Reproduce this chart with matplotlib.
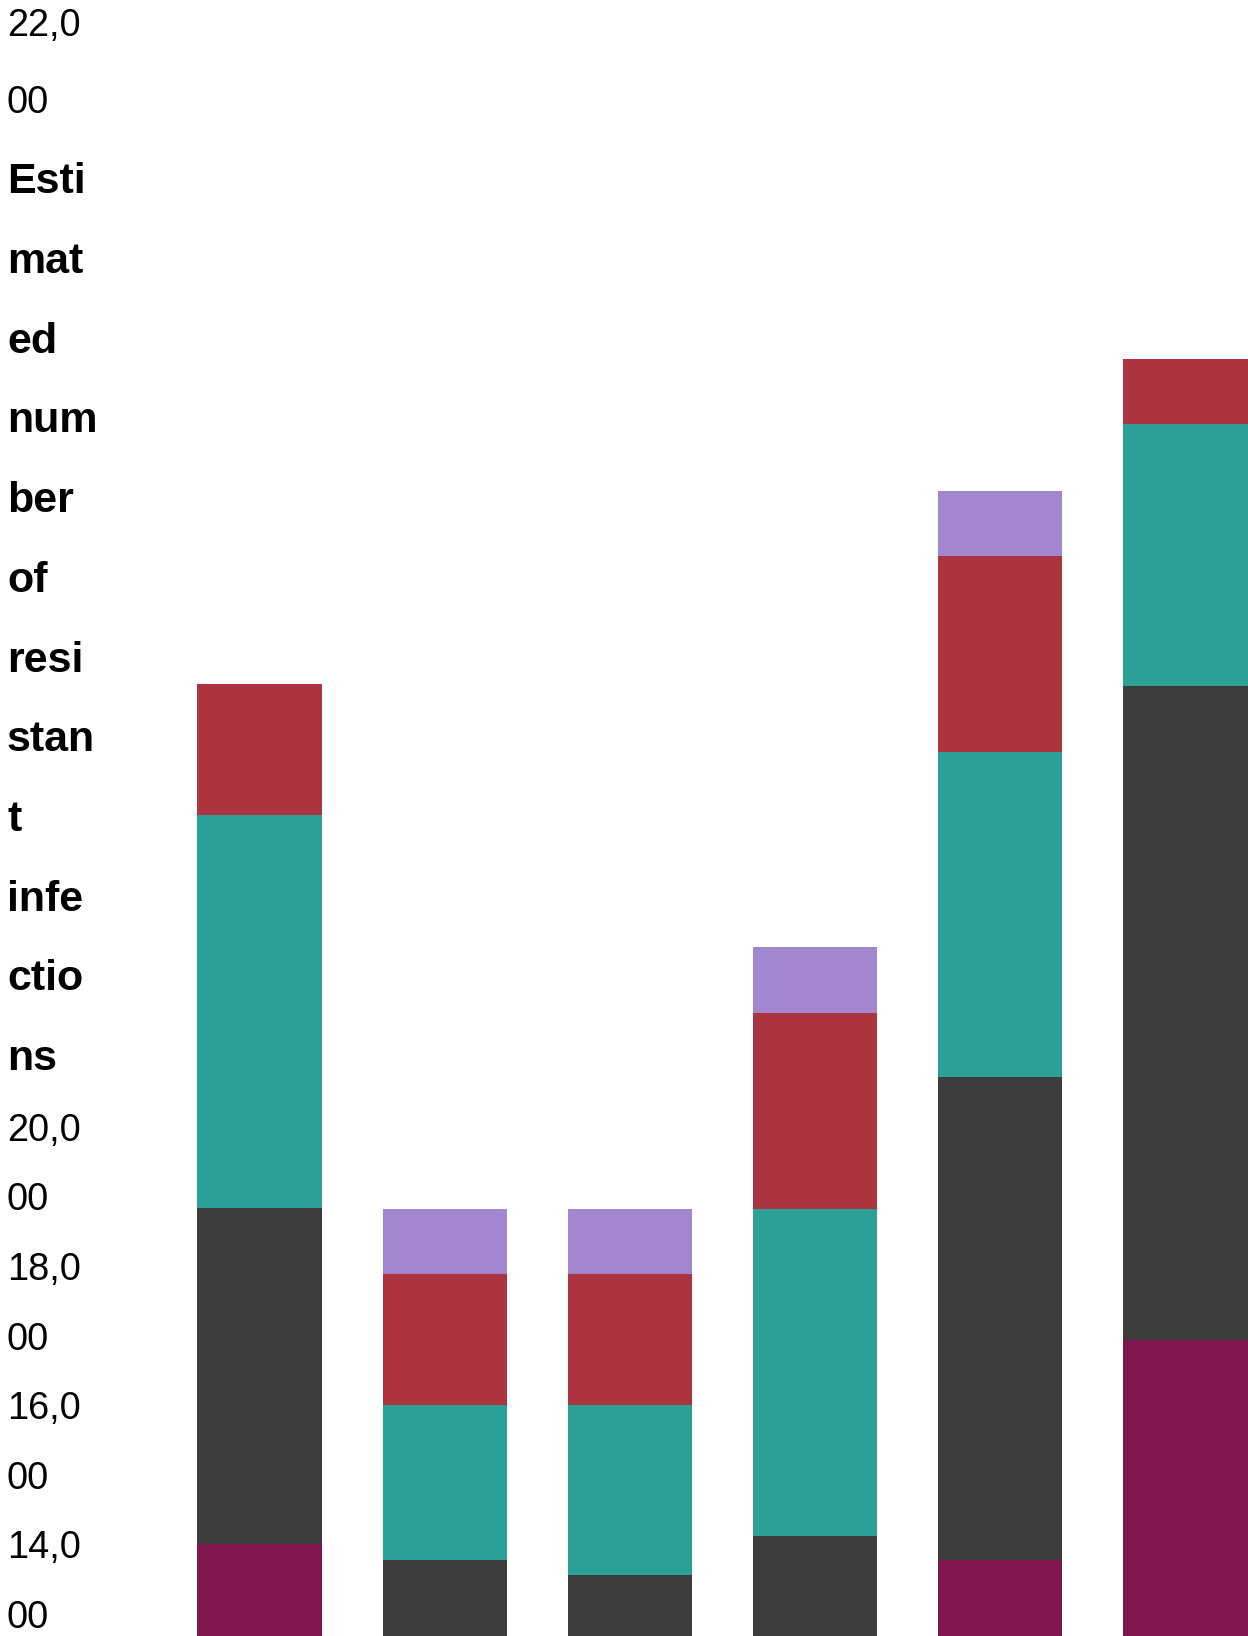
import matplotlib.pyplot as plt
import numpy as np

# stacked segments, bottom to top (values in infections, chart is cropped)
bars = ["1", "2", "3", "4", "5", "6"]
seg_maroon = [3400, 0, 0, 0, 3160, 6530]
seg_gray = [5150, 3160, 2930, 3530, 7390, 10000]
seg_teal = [6000, 2370, 2600, 5000, 4960, 4000]
seg_red = [2000, 2000, 2000, 3000, 3000, 1000]
seg_lav = [0, 1000, 1000, 1000, 1000, 0]

colors = ["#80164e", "#3c3c3c", "#2aa096", "#ac343e", "#a286d0"]

tick_top = ["22,0", "00"]
tick_bottom = ["20,0", "00", "18,0", "00", "16,0", "00", "14,0", "00"]
title_lines = ["Esti", "mat", "ed", "num", "ber", "of", "resi", "stan", "t",
               "infe", "ctio", "ns"]

W, H = 1248, 1636
fig = plt.figure(figsize=(W / 100, H / 100), dpi=100)
plt.rcParams["font.family"] = ["Liberation Sans", "DejaVu Sans"]

ax = fig.add_axes([0, 0, 1, 1])
x = np.arange(len(bars))
bottom = np.zeros(len(bars))
for vals, c in zip([seg_maroon, seg_gray, seg_teal, seg_red, seg_lav], colors):
    ax.bar(x, vals, bottom=bottom, width=0.67, color=c, linewidth=0)
    bottom += np.array(vals)

ax.set_xlim(-259.5 / 185.2, (W - 259.5) / 185.2)
ax.set_ylim(2000, 2000 + H / 0.0654)
ax.axis("off")


def put(txt, ybase, size, weight="normal"):
    fig.text(7 / W, 1 - ybase / H, txt, fontsize=size, fontweight=weight,
             va="baseline", ha="left", color="black")


for t, yb in zip(tick_top, [35.7, 113.3]):
    put(t, yb, 27.4)
for i, t in enumerate(title_lines):
    put(t, 193.3 + i * 79.7, 31, "bold")
for i, t in enumerate(tick_bottom):
    put(t, 1140.7 + i * 69.6, 27.4)

fig.savefig("out.png", dpi=100)
